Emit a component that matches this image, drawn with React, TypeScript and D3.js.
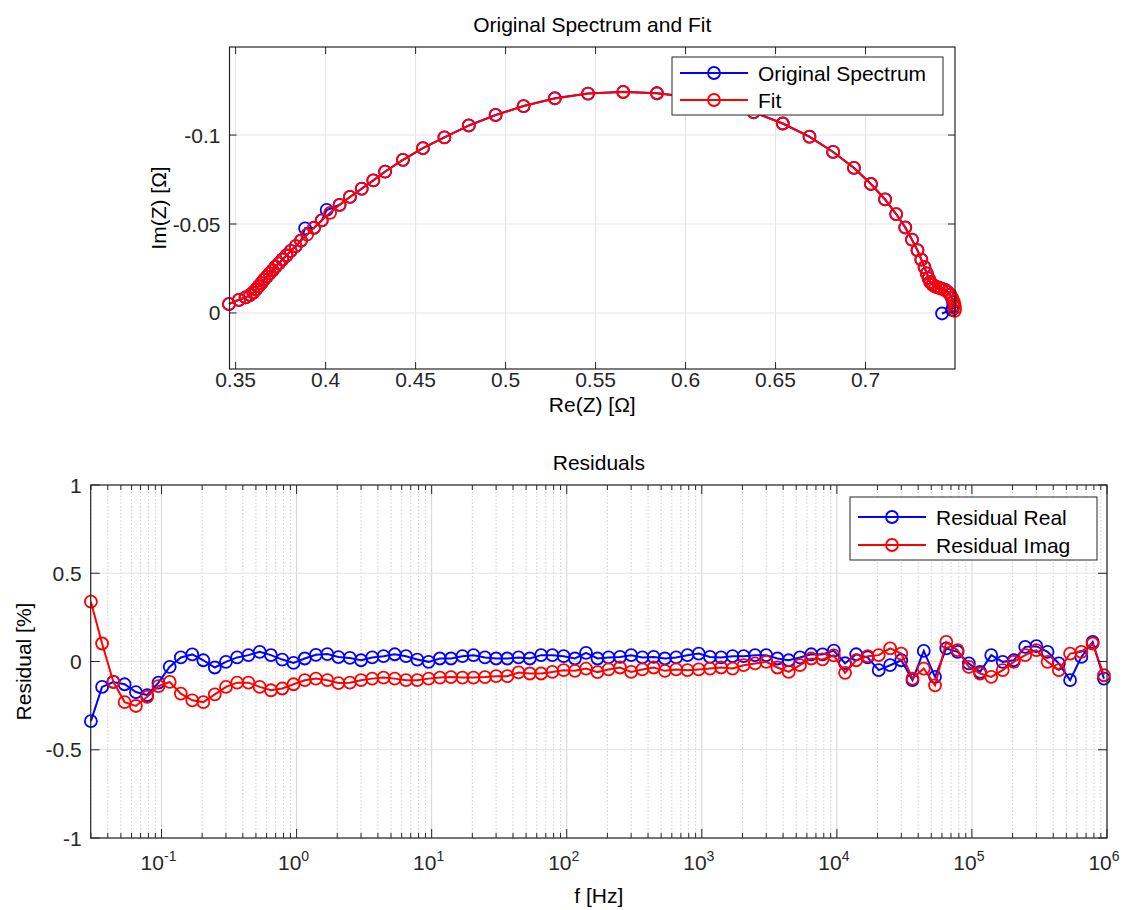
import React from 'react';
import * as d3 from 'd3';

// ---------- Nyquist data (Re, Im in ohm) ----------
const fitRe = [0.3463, 0.3518, 0.3555, 0.3580, 0.3598, 0.3613, 0.3628, 0.3643, 0.3658, 0.3673, 0.3689, 0.3705, 0.3722, 0.3740, 0.3760, 0.3782, 0.3806, 0.3833, 0.3863, 0.3897, 0.3935, 0.3978, 0.4025, 0.4077, 0.4135, 0.4200, 0.4265,
  0.4330, 0.4429, 0.4540, 0.4660, 0.4795, 0.4944, 0.5100, 0.5273, 0.5458, 0.5653, 0.5841,
  0.6025, 0.6205, 0.6378, 0.6540, 0.6688, 0.6820, 0.6935, 0.7030, 0.7108, 0.7170, 0.7220, 0.7258, 0.7288, 0.7310, 0.7327, 0.7340, 0.7350, 0.7360, 0.7372, 0.7388, 0.7405, 0.7422, 0.7440, 0.7457, 0.7471, 0.7482, 0.7490, 0.7495, 0.7497, 0.7496];
const fitIm = [-0.0051, -0.0074, -0.0088, -0.0100, -0.0115, -0.0132, -0.0150, -0.0168, -0.0186, -0.0204, -0.0222, -0.0240, -0.0259, -0.0279, -0.0300, -0.0323, -0.0348, -0.0376, -0.0406, -0.0440, -0.0478, -0.0520, -0.0563, -0.0607, -0.0652, -0.0698, -0.0745,
  -0.0794, -0.0860, -0.0926, -0.0987, -0.1053, -0.1112, -0.1163, -0.1206, -0.1233, -0.1242, -0.1235,
  -0.1213, -0.1178, -0.1128, -0.1065, -0.0990, -0.0905, -0.0815, -0.0725, -0.0638, -0.0556, -0.0480, -0.0412, -0.0352, -0.0300, -0.0257, -0.0222, -0.0194, -0.0173, -0.0158, -0.0148, -0.0142, -0.0137, -0.0130, -0.0119, -0.0103, -0.0084, -0.0064, -0.0045, -0.0028, -0.0012];
const origRe = [0.3463, 0.3519, 0.3556, 0.3581, 0.3598, 0.3614, 0.3628, 0.3644, 0.3658, 0.3674, 0.3689, 0.3706, 0.3722, 0.3741, 0.3760, 0.3783, 0.3806, 0.3834, 0.3863, 0.3886, 0.3936, 0.3979, 0.4006, 0.4078, 0.4135, 0.4201, 0.4265,
  0.4331, 0.4430, 0.4541, 0.4660, 0.4796, 0.4945, 0.5100, 0.5274, 0.5458, 0.5654, 0.5841,
  0.6026, 0.6205, 0.6379, 0.6540, 0.6689, 0.6820, 0.6936, 0.7030, 0.7109, 0.7170, 0.7221, 0.7258, 0.7289, 0.7310, 0.7328, 0.7340, 0.7351, 0.7360, 0.7373, 0.7388, 0.7406, 0.7422, 0.7441, 0.7456, 0.7470, 0.7480, 0.7486, 0.7488, 0.7480, 0.7425];
const origIm = [-0.0050, -0.0074, -0.0088, -0.0101, -0.0115, -0.0132, -0.0151, -0.0168, -0.0187, -0.0204, -0.0223, -0.0240, -0.0260, -0.0279, -0.0301, -0.0323, -0.0349, -0.0376, -0.0407, -0.0476, -0.0479, -0.0520, -0.0579, -0.0608, -0.0652, -0.0699, -0.0745,
  -0.0795, -0.0861, -0.0927, -0.0987, -0.1054, -0.1113, -0.1163, -0.1207, -0.1233, -0.1243, -0.1235,
  -0.1214, -0.1178, -0.1129, -0.1065, -0.0991, -0.0905, -0.0816, -0.0725, -0.0639, -0.0556, -0.0481, -0.0412, -0.0353, -0.0300, -0.0258, -0.0222, -0.0195, -0.0173, -0.0159, -0.0148, -0.0143, -0.0137, -0.0131, -0.0119, -0.0102, -0.0082, -0.0060, -0.0040, -0.0018, 0.0003];

// ---------- Residual data ----------
const freqHz = [
  0.0300, 0.0363, 0.0440, 0.0533, 0.0646, 0.0783, 0.0949, 0.115, 0.139, 0.169, 0.204, 0.248,
  0.300, 0.363, 0.440, 0.533, 0.646, 0.783, 0.949, 1.15, 1.39, 1.69, 2.04, 2.48,
  3.00, 3.63, 4.40, 5.33, 6.46, 7.83, 9.49, 11.5, 13.9, 16.9, 20.4, 24.8,
  30.0, 36.3, 44.0, 53.3, 64.6, 78.3, 94.9, 115, 139, 169, 204, 248,
  300, 363, 440, 533, 646, 783, 949, 1150, 1390, 1690, 2040, 2480,
  3000, 3630, 4400, 5330, 6460, 7830, 9490, 11500, 13900, 16900, 20400, 24800,
  30000, 36300, 44000, 53300, 64600, 78300, 94900, 115000, 139000, 169000, 204000, 248000,
  300000, 363000, 440000, 533000, 646000, 783000, 949000];
const residReal = [
  -0.338, -0.144, -0.116, -0.129, -0.173, -0.19, -0.12, -0.03, 0.023, 0.04, 0.007, -0.034,
  -0.002, 0.023, 0.036, 0.055, 0.036, 0.011, -0.008, 0.017, 0.038, 0.042, 0.025, 0.02,
  0.007, 0.023, 0.030, 0.041, 0.030, 0.011, -0.002, 0.017, 0.017, 0.030, 0.036, 0.023,
  0.017, 0.017, 0.023, 0.017, 0.036, 0.036, 0.030, 0.017, 0.049, 0.017,
  0.023, 0.026, 0.036, 0.023, 0.026, 0.017, 0.023, 0.036, 0.045, 0.026, 0.023, 0.030,
  0.030, 0.036, 0.036, 0.017, 0.007, 0.023, 0.041, 0.040, 0.062, -0.010,
  0.041, 0.023, -0.049, -0.021, 0.007, -0.106, 0.060, -0.087, 0.074, 0.055, -0.011, -0.059,
  0.036, -0.002, 0.007, 0.083, 0.087, 0.055, -0.011, -0.106, 0.026, 0.111, -0.097];
const residImag = [
  0.339, 0.102, -0.116, -0.23, -0.252, -0.2, -0.14, -0.116, -0.182, -0.22, -0.23, -0.186,
  -0.144, -0.12, -0.12, -0.144, -0.163, -0.153, -0.129, -0.106, -0.097, -0.106, -0.122, -0.12,
  -0.106, -0.097, -0.091, -0.097, -0.106, -0.106, -0.097, -0.091, -0.088, -0.091, -0.091, -0.088,
  -0.083, -0.083, -0.062, -0.068, -0.068, -0.059, -0.049, -0.053, -0.040, -0.060,
  -0.045, -0.034, -0.059, -0.045, -0.034, -0.053, -0.045, -0.049, -0.045, -0.040, -0.034, -0.040,
  -0.021, -0.011, -0.002, -0.034, -0.059, -0.021, 0.017, 0.012, 0.035, -0.064,
  0.007, 0.030, 0.036, 0.074, 0.045, -0.097, -0.040, -0.135, 0.111, 0.064, -0.031, -0.068,
  -0.087, -0.049, -0.002, 0.036, 0.064, -0.002, -0.049, 0.045, 0.055, 0.102, -0.078];

// ---------- ticks ----------
const topXTicks = [0.35, 0.4, 0.45, 0.5, 0.55, 0.6, 0.65, 0.7];
const topXLabels = ['0.35', '0.4', '0.45', '0.5', '0.55', '0.6', '0.65', '0.7'];
const topYTicks = [-0.1, -0.05, 0];
const topYLabels = ['-0.1', '-0.05', '0'];
const botYTicks = [-1, -0.5, 0, 0.5, 1];
const botYLabels = ['-1', '-0.5', '0', '0.5', '1'];
const botXExponents = [-1, 0, 1, 2, 3, 4, 5, 6];

const FONT = '"Liberation Sans", Arial, Helvetica, sans-serif';
const BLUE = '#0000ff';
const RED = '#ff0000';
const AX = '#262626';
const GRID = '#e3e3e3';
const FS = 21;

export default function App() {
  // top axes
  const tx = d3.scaleLinear().domain([0.3466, 0.7497]).range([229.5, 955]);
  const ty = d3.scaleLinear().domain([-0.1495, 0.0315]).range([47, 369]);
  // bottom axes
  const bx = d3.scaleLog().domain([0.0299, 1e6]).range([90.7, 1107]);
  const by = d3.scaleLinear().domain([-1, 1]).range([838, 485]);

  const topL = tx.range()[0], topR = tx.range()[1], topT = ty.range()[0], topB = ty.range()[1];
  const botL = bx.range()[0], botR = bx.range()[1], botT = by.range()[1], botB = by.range()[0];

  const fitPts = fitRe.map((r, i) => [tx(r), ty(fitIm[i])] as [number, number]);
  const origPts = origRe.map((r, i) => [tx(r), ty(origIm[i])] as [number, number]);
  const realPts = freqHz.map((f, i) => [bx(f), by(residReal[i])] as [number, number]);
  const imagPts = freqHz.map((f, i) => [bx(f), by(residImag[i])] as [number, number]);
  const line = d3.line();

  const allLogTicks = bx.ticks();
  const minorTicks = allLogTicks.filter(v => Math.abs(Math.log10(v) - Math.round(Math.log10(v))) > 1e-6);
  const majorTicks = botXExponents.map(e => Math.pow(10, e));

  const R = 6;
  const SW = 1.8;
  const LW = 2;

  const series = (pts: [number, number][], color: string) => (
    <g>
      <path d={line(pts) || ''} fill="none" stroke={color} strokeWidth={LW} />
      {pts.map((p, i) => (
        <circle key={i} cx={p[0]} cy={p[1]} r={R} fill="none" stroke={color} strokeWidth={SW} />
      ))}
    </g>
  );

  const legendItem = (x: number, y: number, color: string, label: string) => (
    <g>
      <line x1={x} x2={x + 68} y1={y} y2={y} stroke={color} strokeWidth={LW} />
      <circle cx={x + 34} cy={y} r={R} fill="none" stroke={color} strokeWidth={SW} />
      <text x={x + 78} y={y + 7.5} fontSize={FS} fill="#000">{label}</text>
    </g>
  );

  return (
    <svg width={1127} height={910} style={{ position: 'absolute', left: 0, top: 0, background: '#fff' }} fontFamily={FONT}>
      <rect x={0} y={0} width={1127} height={910} fill="#fff" />

      {/* ================= TOP PLOT ================= */}
      <g>
        {topXTicks.map((v, i) => (
          <line key={'tgx' + i} x1={tx(v)} x2={tx(v)} y1={topT} y2={topB} stroke={GRID} strokeWidth={1} />
        ))}
        {topYTicks.map((v, i) => (
          <line key={'tgy' + i} x1={topL} x2={topR} y1={ty(v)} y2={ty(v)} stroke={GRID} strokeWidth={1} />
        ))}
        {series(origPts, BLUE)}
        {series(fitPts, RED)}
        <rect x={topL} y={topT} width={topR - topL} height={topB - topT} fill="none" stroke={AX} strokeWidth={1.2} />
        {topXTicks.map((v, i) => (
          <g key={'ttx' + i}>
            <line x1={tx(v)} x2={tx(v)} y1={topB} y2={topB - 7} stroke={AX} />
            <line x1={tx(v)} x2={tx(v)} y1={topT} y2={topT + 7} stroke={AX} />
            <text x={tx(v)} y={topB + 18} fontSize={FS} textAnchor="middle" fill="#262626">{topXLabels[i]}</text>
          </g>
        ))}
        {topYTicks.map((v, i) => (
          <g key={'tty' + i}>
            <line x1={topL} x2={topL + 7} y1={ty(v)} y2={ty(v)} stroke={AX} />
            <line x1={topR} x2={topR - 7} y1={ty(v)} y2={ty(v)} stroke={AX} />
            <text x={topL - 9} y={ty(v) + 7.5} fontSize={FS} textAnchor="end" fill="#262626">{topYLabels[i]}</text>
          </g>
        ))}
        <text x={(topL + topR) / 2} y={32} fontSize={FS} textAnchor="middle" fill="#000">Original Spectrum and Fit</text>
        <text x={(topL + topR) / 2} y={412} fontSize={FS} textAnchor="middle" fill="#000">Re(Z) [Ω]</text>
        <text transform={`translate(166,${(topT + topB) / 2}) rotate(-90)`} fontSize={FS} textAnchor="middle" fill="#000">Im(Z) [Ω]</text>
        {/* legend */}
        <rect x={672} y={57} width={271} height={58} fill="#fff" stroke={AX} strokeWidth={1} />
        {legendItem(680, 73, BLUE, 'Original Spectrum')}
        {legendItem(680, 100, RED, 'Fit')}
      </g>

      {/* ================= BOTTOM PLOT ================= */}
      <g>
        {minorTicks.map((v, i) => (
          <line key={'bmg' + i} x1={bx(v)} x2={bx(v)} y1={botT} y2={botB} stroke="#cfcfcf" strokeWidth={1} strokeDasharray="1.5,2" />
        ))}
        {majorTicks.map((v, i) => (
          <line key={'bMg' + i} x1={bx(v)} x2={bx(v)} y1={botT} y2={botB} stroke="#d4d4d4" strokeWidth={1} />
        ))}
        {botYTicks.map((v, i) => (
          <line key={'bgy' + i} x1={botL} x2={botR} y1={by(v)} y2={by(v)} stroke={GRID} strokeWidth={1} />
        ))}
        {series(realPts, BLUE)}
        {series(imagPts, RED)}
        <rect x={botL} y={botT} width={botR - botL} height={botB - botT} fill="none" stroke={AX} strokeWidth={1.2} />
        {minorTicks.map((v, i) => (
          <g key={'bmt' + i}>
            <line x1={bx(v)} x2={bx(v)} y1={botB} y2={botB - 5} stroke={AX} />
            <line x1={bx(v)} x2={bx(v)} y1={botT} y2={botT + 5} stroke={AX} />
          </g>
        ))}
        {majorTicks.map((v, i) => (
          <g key={'bMt' + i}>
            <line x1={bx(v)} x2={bx(v)} y1={botB} y2={botB - 9} stroke={AX} />
            <line x1={bx(v)} x2={bx(v)} y1={botT} y2={botT + 9} stroke={AX} />
            <text x={bx(v) - 3} y={870} fontSize={FS} textAnchor="middle" fill="#262626">
              10<tspan dy={-9} fontSize={14}>{String(botXExponents[i])}</tspan>
            </text>
          </g>
        ))}
        {botYTicks.map((v, i) => (
          <g key={'bty' + i}>
            <line x1={botL} x2={botL + 9} y1={by(v)} y2={by(v)} stroke={AX} />
            <line x1={botR} x2={botR - 9} y1={by(v)} y2={by(v)} stroke={AX} />
            <text x={botL - 9} y={by(v) + 7.5} fontSize={FS} textAnchor="end" fill="#262626">{botYLabels[i]}</text>
          </g>
        ))}
        <text x={(botL + botR) / 2} y={470} fontSize={FS} textAnchor="middle" fill="#000">Residuals</text>
        <text x={(botL + botR) / 2} y={903} fontSize={FS} textAnchor="middle" fill="#000">f [Hz]</text>
        <text transform={`translate(31,${(botT + botB) / 2}) rotate(-90)`} fontSize={FS} textAnchor="middle" fill="#000">Residual [%]</text>
        {/* legend */}
        <rect x={850} y={497} width={247} height={63} fill="#fff" stroke={AX} strokeWidth={1} />
        {legendItem(858, 517, BLUE, 'Residual Real')}
        {legendItem(858, 545, RED, 'Residual Imag')}
      </g>
    </svg>
  );
}
